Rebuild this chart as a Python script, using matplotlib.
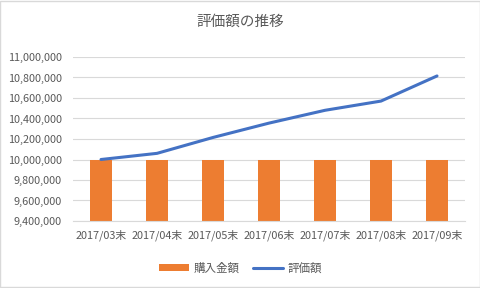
import matplotlib.pyplot as plt
import matplotlib.ticker as ticker
import numpy as np

plt.rcParams['font.family'] = ['Noto Sans CJK JP', 'DejaVu Sans']

months = ['2017/03末', '2017/04末', '2017/05末', '2017/06末', '2017/07末', '2017/08末', '2017/09末']
purchase = [10000000, 10000000, 10000000, 10000000, 10000000, 10000000, 10000000]
valuation = [10000000, 10060000, 10215000, 10355000, 10480000, 10570000, 10815000]

text_color = '#595959'
orange = '#ED7D31'
blue = '#4472C4'

fig = plt.figure(figsize=(4.81, 2.88), dpi=100)
ax = fig.add_axes([73 / 481, 1 - 221 / 288, (465 - 73) / 481, (221 - 57) / 288])

x = np.arange(len(months))
bars = ax.bar(x, purchase, width=0.4, color=orange, label='購入金額', zorder=2)
line, = ax.plot(x, valuation, color=blue, linewidth=2.2, label='評価額', zorder=3,
                solid_capstyle='round')

ax.set_ylim(9400000, 11000000)
ax.set_xlim(-0.5, len(months) - 0.5)
ax.yaxis.set_major_locator(ticker.MultipleLocator(200000))
ax.yaxis.set_major_formatter(ticker.FuncFormatter(lambda v, p: f'{int(v):,}'))
ax.set_xticks(x)
ax.set_xticklabels(months)
ax.tick_params(axis='both', length=0, colors=text_color, labelsize=7.8)
ax.tick_params(axis='y', pad=8)
ax.tick_params(axis='x', pad=6)
ax.grid(axis='y', color='#D9D9D9', linewidth=0.8, zorder=0)
for s in ['top', 'right', 'left']:
    ax.spines[s].set_visible(False)
ax.spines['bottom'].set_color('#D9D9D9')

fig.text(0.5, 1 - 22 / 288, '評価額の推移', ha='center', va='center',
         fontsize=10.5, color=text_color)

fig.legend([bars, line], ['購入金額', '評価額'], loc='center',
           bbox_to_anchor=(0.5, 1 - 268 / 288),
           ncol=2, frameon=False, fontsize=8.3, labelcolor=text_color,
           handlelength=2.6, handleheight=0.5, columnspacing=1.2, handletextpad=0.4)

border = plt.Rectangle((0.001, 0.002), 0.997, 0.995, transform=fig.transFigure,
                       fill=False, edgecolor='#D9D9D9', linewidth=1)
fig.patches.append(border)

fig.savefig('out.png', dpi=100)
